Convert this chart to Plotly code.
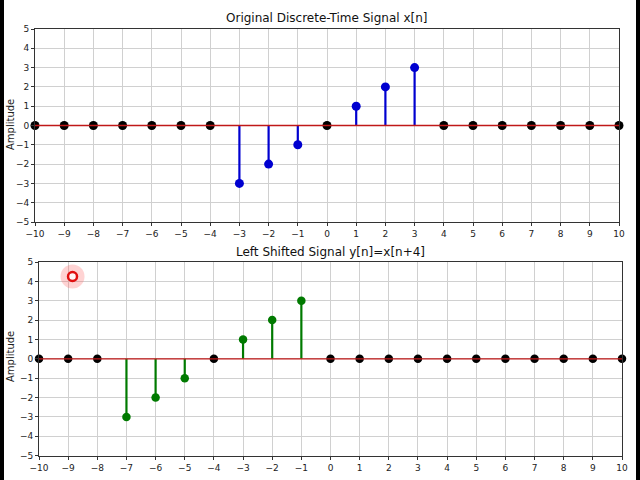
import plotly.graph_objects as go

n = list(range(-10, 11))
x_vals = [0, 0, 0, 0, 0, 0, 0, -3, -2, -1, 0, 1, 2, 3, 0, 0, 0, 0, 0, 0, 0]
shift = 4
y_vals = [x_vals[i + shift] if 0 <= i + shift < len(n) else 0 for i in range(len(n))]

titles = ["Original Discrete-Time Signal x[n]", "Left Shifted Signal y[n]=x[n+4]"]
ylabel = "Amplitude"
stem_colors = ["#0000d0", "#007a00"]
ticks_x = list(range(-10, 11))
ticks_y = list(range(-5, 6))

fig = go.Figure()

def add_stem(vals, color, xa, ya, msize):
    sx, sy = [], []
    for k, v in zip(n, vals):
        if v != 0:
            sx += [k, k, None]
            sy += [0, v, None]
    fig.add_trace(go.Scatter(x=sx, y=sy, mode="lines", line=dict(color=color, width=2.2),
                             xaxis=xa, yaxis=ya, hoverinfo="skip", showlegend=False))
    zx = [k for k, v in zip(n, vals) if v == 0]
    zy = [0 for k in zx]
    fig.add_trace(go.Scatter(x=zx, y=zy, mode="markers", marker=dict(color="black", size=msize),
                             xaxis=xa, yaxis=ya, showlegend=False, cliponaxis=False))
    fig.add_trace(go.Scatter(x=[n[0], n[-1]], y=[0, 0], mode="lines", line=dict(color="#c01818", width=1.4),
                             xaxis=xa, yaxis=ya, showlegend=False))
    nx = [k for k, v in zip(n, vals) if v != 0]
    ny = [v for v in vals if v != 0]
    fig.add_trace(go.Scatter(x=nx, y=ny, mode="markers", marker=dict(color=color, size=msize),
                             xaxis=xa, yaxis=ya, showlegend=False))

add_stem(x_vals, stem_colors[0], "x", "y", 9)
add_stem(y_vals, stem_colors[1], "x2", "y2", 8.5)

font = dict(family="DejaVu Sans", size=9, color="#222")
axcommon = dict(showgrid=True, gridcolor="#d0d0d0", gridwidth=1, zeroline=False,
                showline=True, linecolor="#333", linewidth=1, mirror=True, automargin=False,
                ticks="outside", ticklen=3, tickcolor="#333", tickfont=font)

fig.update_layout(
    width=640, height=480, margin=dict(l=0, r=0, t=0, b=0, autoexpand=False),
    paper_bgcolor="white", plot_bgcolor="white", showlegend=False,
    xaxis=dict(domain=[35/640, 619/640], range=[-10, 10], tickvals=ticks_x, anchor="y", **axcommon),
    yaxis=dict(domain=[1-222/480, 1-29/480], range=[-5, 5], tickvals=ticks_y, anchor="x", **axcommon),
    xaxis2=dict(domain=[39/640, 622/640], range=[-10, 10], tickvals=ticks_x, anchor="y2", **axcommon),
    yaxis2=dict(domain=[1-455.7/480, 1-262/480], range=[-5, 5], tickvals=ticks_y, anchor="x2", **axcommon),
)

fig.add_annotation(text=titles[0], x=(35+619)/2/640, y=1-18/480, xref="paper", yref="paper",
                   xanchor="center", yanchor="middle",
                   showarrow=False, font=dict(family="DejaVu Sans", size=12, color="#111"))
fig.add_annotation(text=titles[1], x=(39+622)/2/640, y=1-252/480, xref="paper", yref="paper",
                   xanchor="center", yanchor="middle",
                   showarrow=False, font=dict(family="DejaVu Sans", size=12, color="#111"))
for yc in (125, 357):
    fig.add_annotation(text=ylabel, x=10/640, y=1-yc/480, xref="paper", yref="paper",
                       xanchor="center", yanchor="middle", textangle=-90,
                       showarrow=False, font=dict(family="DejaVu Sans", size=10, color="#222"))

# cursor highlight artifact from the screen recording
fig.add_shape(type="circle", xref="x2", yref="y2", xsizemode="pixel", ysizemode="pixel",
              xanchor=-8.85, yanchor=4.25, x0=-12, x1=12, y0=-12, y1=12,
              fillcolor="rgba(255,80,80,0.25)", line=dict(width=0))
fig.add_shape(type="circle", xref="x2", yref="y2", xsizemode="pixel", ysizemode="pixel",
              xanchor=-8.85, yanchor=4.25, x0=-4.5, x1=4.5, y0=-4.5, y1=4.5,
              fillcolor="rgba(255,255,255,0.8)", line=dict(width=2.5, color="#e01010"))
# dark frame edges of the recording
fig.add_shape(type="rect", xref="paper", yref="paper", x0=0, x1=4/640, y0=0, y1=1,
              fillcolor="black", line=dict(width=0), layer="above")
fig.add_shape(type="rect", xref="paper", yref="paper", x0=636/640, x1=1, y0=0, y1=1,
              fillcolor="black", line=dict(width=0), layer="above")

fig.write_html("out.html")
